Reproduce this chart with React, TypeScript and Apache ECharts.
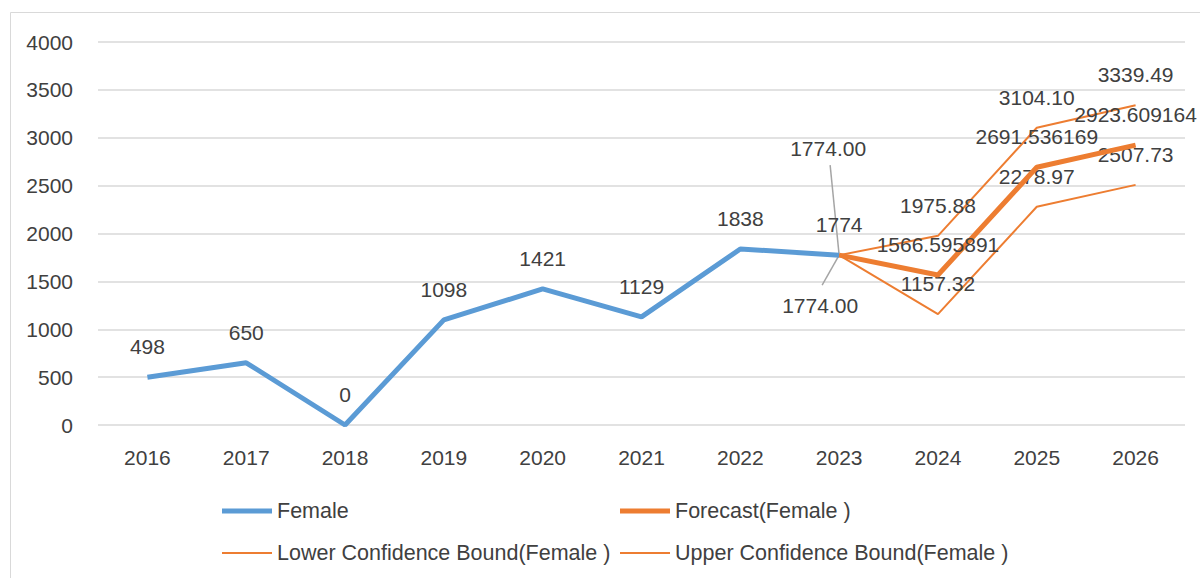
import React, { useEffect, useRef } from "react";
import * as echarts from "echarts";

const years = ["2016", "2017", "2018", "2019", "2020", "2021", "2022", "2023", "2024", "2025", "2026"];
const female = [498, 650, 0, 1098, 1421, 1129, 1838, 1774, null, null, null];
const forecast = [null, null, null, null, null, null, null, 1774, 1566.595891, 2691.536169, 2923.609164];
const lowerBound = [null, null, null, null, null, null, null, 1774, 1157.32, 2278.97, 2507.73];
const upperBound = [null, null, null, null, null, null, null, 1774, 1975.88, 3104.1, 3339.49];

const forecastLabels = ["", "", "", "", "", "", "", "", "1566.595891", "2691.536169", "2923.609164"];
const lowerLabels = ["", "", "", "", "", "", "", "1774.00", "1157.32", "2278.97", "2507.73"];
const upperLabels = ["", "", "", "", "", "", "", "1774.00", "1975.88", "3104.10", "3339.49"];

const BLUE = "#5b9bd5";
const ORANGE = "#ed7d31";
const TEXT = "#404040";
const GUIDE = "#a5a5a5";
const FONT = "Liberation Sans";

export default function App() {
  const ref = useRef<HTMLDivElement>(null);
  useEffect(() => {
    const chart = echarts.init(ref.current!, null, { renderer: "svg" });
    const labelBase = { show: true, position: "top", distance: 20, color: TEXT, fontSize: 21, fontFamily: FONT };
    const legendBase = {
      itemWidth: 50,
      icon: "rect",
      textStyle: { color: TEXT, fontSize: 21.5, fontFamily: FONT },
      selectedMode: false,
      orient: "horizontal",
    };
    const hiddenSymbol = { symbol: "circle", symbolSize: 0, showSymbol: true };
    const border = {
      id: "border",
      type: "rect",
      shape: { x: 10.5, y: 12.5, width: 1200, height: 580 },
      style: { fill: "none", stroke: "#d9d9d9", lineWidth: 1 },
      silent: true,
    };
    chart.setOption({
      animation: false,
      graphic: [border],
      grid: { left: 98, right: 15, top: 42, bottom: 153 },
      xAxis: {
        type: "category",
        data: years,
        boundaryGap: true,
        axisLine: { show: false },
        axisTick: { show: false },
        axisLabel: { color: TEXT, fontSize: 21, fontFamily: FONT, margin: 22 },
      },
      yAxis: {
        type: "value",
        min: 0,
        max: 4000,
        interval: 500,
        axisLine: { show: false },
        axisTick: { show: false },
        axisLabel: { color: TEXT, fontSize: 21, fontFamily: FONT, margin: 25, formatter: (v: number) => String(v) },
        splitLine: { lineStyle: { color: "#d9d9d9", width: 1.5 } },
      },
      legend: [
        { ...legendBase, left: 217, top: 495, itemHeight: 5, data: ["Female"] },
        { ...legendBase, left: 615, top: 495, itemHeight: 5, data: ["Forecast(Female )"] },
        { ...legendBase, left: 217, top: 537, itemHeight: 2, data: ["Lower Confidence Bound(Female )"] },
        { ...legendBase, left: 615, top: 537, itemHeight: 2, data: ["Upper Confidence Bound(Female )"] },
      ],
      series: [
        {
          name: "Female",
          type: "line",
          data: female,
          ...hiddenSymbol,
          lineStyle: { color: BLUE, width: 5 },
          itemStyle: { color: BLUE },
          label: { ...labelBase },
          z: 3,
        },
        {
          name: "Forecast(Female )",
          type: "line",
          data: forecast,
          ...hiddenSymbol,
          lineStyle: { color: ORANGE, width: 5 },
          itemStyle: { color: ORANGE },
          label: { ...labelBase, formatter: (p: any) => forecastLabels[p.dataIndex] },
          z: 4,
        },
        {
          name: "Lower Confidence Bound(Female )",
          type: "line",
          data: lowerBound.map((v, i) => (i === 7 ? { value: v, label: { position: "bottom" } } : v)),
          ...hiddenSymbol,
          lineStyle: { color: ORANGE, width: 2 },
          itemStyle: { color: ORANGE },
          label: { ...labelBase, formatter: (p: any) => lowerLabels[p.dataIndex] },
          labelLayout: (p: any) => (p.dataIndex === 7 ? { dx: -19, dy: 20 } : {}),
          z: 2,
        },
        {
          name: "Upper Confidence Bound(Female )",
          type: "line",
          data: upperBound,
          ...hiddenSymbol,
          lineStyle: { color: ORANGE, width: 2 },
          itemStyle: { color: ORANGE },
          label: { ...labelBase, formatter: (p: any) => upperLabels[p.dataIndex] },
          labelLayout: (p: any) => (p.dataIndex === 7 ? { dx: -11, dy: -76 } : {}),
          z: 2,
        },
      ],
    });
    const anchor = chart.convertToPixel({ xAxisIndex: 0, yAxisIndex: 0 }, [7, upperBound[7]]) as number[];
    const [ax, ay] = anchor;
    chart.setOption({
      graphic: [
        border,
        {
          id: "guideUp",
          type: "line",
          shape: { x1: ax, y1: ay, x2: ax - 9, y2: ay - 90 },
          style: { stroke: GUIDE, lineWidth: 1.5 },
          z: 1,
          silent: true,
        },
        {
          id: "guideDown",
          type: "line",
          shape: { x1: ax, y1: ay, x2: ax - 17, y2: ay + 30 },
          style: { stroke: GUIDE, lineWidth: 1.5 },
          z: 1,
          silent: true,
        },
      ],
    });
    return () => chart.dispose();
  }, []);
  return (
    <div style={{ position: "fixed", left: 0, top: 0, width: 1200, height: 578, background: "#fff" }}>
      <div ref={ref} style={{ width: 1200, height: 578 }} />
    </div>
  );
}
